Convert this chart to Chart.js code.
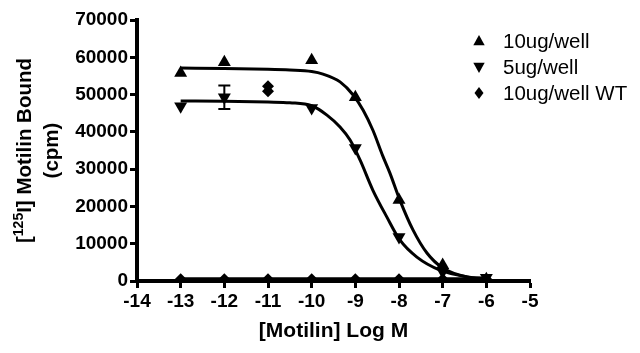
<!DOCTYPE html>
<html><head><meta charset="utf-8">
<script src="https://cdn.jsdelivr.net/npm/chart.js@4/dist/chart.umd.min.js"></script>
<style>html,body{margin:0;padding:0;background:#fff}canvas{display:block}</style>
</head><body>
<canvas id="c" width="640" height="353"></canvas>
<script>
// ---- data ----
const seriesNames = ["10ug/well", "5ug/well", "10ug/well WT"];
const xTicks = [-14, -13, -12, -11, -10, -9, -8, -7, -6, -5];
const yTicks = [0, 10000, 20000, 30000, 40000, 50000, 60000, 70000];
const xTitle = "[Motilin] Log M";
const yTitleParts = ["[", "125", "I] Motilin Bound"]; // middle part is superscript
const yTitleLine2 = "(cpm)";

const tenX = [-13, -12, -10, -9, -8, -7, -6];
const tenY = [55800, 58700, 59200, 49300, 21700, 4300, 500];

const fiveX = [-13, -12, -10, -9, -8, -7, -6];
const fiveY = [46900, 49300, 46400, 35700, 11800, 2500, 900];

const wtX = [-13, -12, -11, -10, -9, -8, -7, -6, -11, -11];
const wtY = [500, 500, 500, 500, 500, 500, 500, 500, 52200, 50900];

// error bar (5ug/well at -12)
const errX = [-12];
const errLow = [46100];
const errHigh = [52400];

// fitted curves
const curveTenX = [-13, -12, -11, -10.5, -10, -9.74, -9.35, -9.05, -8.82, -8.6, -8.37, -8.21, -7.98, -7.68, -7.36, -7, -6.44, -6];
const curveTenY = [57100, 57000, 56800, 56600, 56200, 55500, 53400, 49900, 45800, 40500, 33500, 29000, 21700, 13700, 7500, 3500, 1100, 700];
const curveFiveX = [-13, -12, -11, -10.5, -10, -9.65, -9.35, -9.12, -8.89, -8.6, -8.28, -7.98, -7.59, -7.06, -6.44, -6];
const curveFiveY = [48300, 48200, 48000, 47800, 47000, 44500, 41300, 37800, 32400, 24400, 17200, 11000, 6400, 2900, 1100, 600];
const curveWtX = [-13, -6];
const curveWtY = [500, 500];

const pts = (xs, ys) => xs.map((x, i) => ({x: x, y: ys[i]}));
const FONT = "'Liberation Sans', Arial, sans-serif";

const errorBars = {
  id: 'errorBars',
  afterDatasetsDraw(chart) {
    const {ctx, scales: {x, y}} = chart;
    ctx.save();
    ctx.strokeStyle = '#000';
    ctx.lineWidth = 2;
    errX.forEach((v, i) => {
      const px = x.getPixelForValue(v);
      const y1 = y.getPixelForValue(errLow[i]);
      const y2 = y.getPixelForValue(errHigh[i]);
      ctx.beginPath();
      ctx.moveTo(px, y1); ctx.lineTo(px, y2);
      ctx.moveTo(px - 6, y1); ctx.lineTo(px + 6, y1);
      ctx.moveTo(px - 6, y2); ctx.lineTo(px + 6, y2);
      ctx.stroke();
    });
    ctx.restore();
  }
};

function shape(ctx, kind, cx, cy, r) {
  ctx.beginPath();
  if (kind === 'up') {
    ctx.moveTo(cx, cy - r); ctx.lineTo(cx + r * 0.95, cy + r * 0.7); ctx.lineTo(cx - r * 0.95, cy + r * 0.7);
  } else if (kind === 'down') {
    ctx.moveTo(cx, cy + r); ctx.lineTo(cx + r * 0.95, cy - r * 0.7); ctx.lineTo(cx - r * 0.95, cy - r * 0.7);
  } else {
    ctx.moveTo(cx, cy - r); ctx.lineTo(cx + r * 0.75, cy); ctx.lineTo(cx, cy + r); ctx.lineTo(cx - r * 0.75, cy);
  }
  ctx.closePath();
  ctx.fill();
}

const customLegend = {
  id: 'customLegend',
  afterDraw(chart) {
    const ctx = chart.ctx;
    const kinds = ['up', 'down', 'diamond'];
    const rowsY = [41, 67, 93];
    ctx.save();
    ctx.fillStyle = '#000';
    ctx.font = "20.5px " + FONT;
    ctx.textBaseline = 'middle';
    ctx.textAlign = 'left';
    seriesNames.forEach((name, i) => {
      shape(ctx, kinds[i], 479, rowsY[i], 6);
      ctx.fillText(name, 503, rowsY[i] + 1);
    });
    ctx.restore();
  }
};

const yTitle = {
  id: 'yTitle',
  afterDraw(chart) {
    const ctx = chart.ctx;
    const ca = chart.chartArea;
    const cy = (ca.top + ca.bottom) / 2;
    const big = "bold 20.5px " + FONT, small = "bold 14px " + FONT;
    ctx.save();
    ctx.fillStyle = '#000';
    ctx.textBaseline = 'middle';
    ctx.textAlign = 'left';
    ctx.translate(25, cy);
    ctx.rotate(-Math.PI / 2);
    ctx.font = big; const w0 = ctx.measureText(yTitleParts[0]).width, w2 = ctx.measureText(yTitleParts[2]).width;
    ctx.font = small; const w1 = ctx.measureText(yTitleParts[1]).width;
    let x0 = -(w0 + w1 + w2) / 2;
    ctx.font = big; ctx.fillText(yTitleParts[0], x0, 0); x0 += w0;
    ctx.font = small; ctx.fillText(yTitleParts[1], x0, -6); x0 += w1;
    ctx.font = big; ctx.fillText(yTitleParts[2], x0, 0);
    ctx.textAlign = 'center';
    ctx.fillText(yTitleLine2, 0, 27);
    ctx.restore();
  }
};

new Chart(document.getElementById('c'), {
  type: 'scatter',
  data: {
    datasets: [
      {label: 'curve10', data: pts(curveTenX, curveTenY), showLine: true, pointRadius: 0, borderColor: '#000', borderWidth: 3, cubicInterpolationMode: 'monotone'},
      {label: 'curve5', data: pts(curveFiveX, curveFiveY), showLine: true, pointRadius: 0, borderColor: '#000', borderWidth: 3, cubicInterpolationMode: 'monotone'},
      {label: 'curveWT', data: pts(curveWtX, curveWtY), showLine: true, pointRadius: 0, borderColor: '#000', borderWidth: 4},
      {label: seriesNames[0], data: pts(tenX, tenY), pointStyle: 'triangle', pointRadius: 7.5, backgroundColor: '#000', borderColor: '#000', borderWidth: 0},
      {label: seriesNames[1], data: pts(fiveX, fiveY), pointStyle: 'triangle', rotation: 180, pointRadius: 7.5, backgroundColor: '#000', borderColor: '#000', borderWidth: 0},
      {label: seriesNames[2], data: pts(wtX, wtY), pointStyle: 'rectRot', pointRadius: 6, backgroundColor: '#000', borderColor: '#000', borderWidth: 0}
    ]
  },
  options: {
    responsive: false,
    animation: false,
    devicePixelRatio: 1,
    layout: {padding: {top: 20, right: 110, bottom: 0, left: 0}},
    plugins: {legend: {display: false}, tooltip: {enabled: false}},
    scales: {
      x: {
        type: 'linear', min: -14, max: -5,
        afterBuildTicks: s => { s.ticks = xTicks.map(v => ({value: v})); },
        afterFit: s => { s.height = 72; },
        ticks: {color: '#000', font: {family: FONT, size: 19, weight: 'bold'}, padding: 2, maxRotation: 0, callback: v => String(v)},
        grid: {drawOnChartArea: false, drawTicks: true, tickLength: 7, tickWidth: 3, tickColor: '#000'},
        border: {display: true, color: '#000', width: 4},
        title: {display: true, text: xTitle, color: '#000', font: {family: FONT, size: 21, weight: 'bold'}, padding: {top: 0, bottom: 9}}
      },
      y: {
        type: 'linear', min: 0, max: 70000,
        afterBuildTicks: s => { s.ticks = yTicks.map(v => ({value: v})); },
        afterFit: s => { s.width = 137; },
        ticks: {color: '#000', font: {family: FONT, size: 19, weight: 'bold'}, padding: 2, callback: v => String(v)},
        grid: {drawOnChartArea: false, drawTicks: true, tickLength: 7, tickWidth: 3, tickColor: '#000'},
        border: {display: true, color: '#000', width: 4},
        title: {display: false}
      }
    }
  },
  plugins: [errorBars, customLegend, yTitle]
});
</script>
</body></html>
